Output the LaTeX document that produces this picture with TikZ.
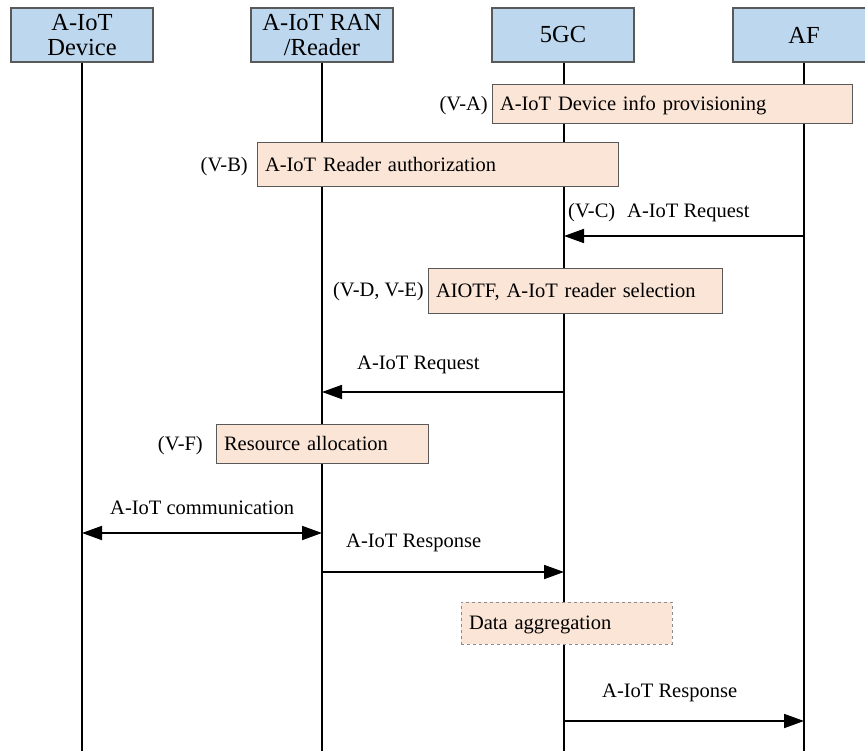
\documentclass[tikz,border=0pt]{standalone}
\usepackage{fontspec}
\setmainfont{Liberation Serif}
\usetikzlibrary{arrows.meta}
\definecolor{hdrfill}{HTML}{BDD7EE}
\definecolor{stepfill}{HTML}{FBE5D6}
\definecolor{edgegray}{HTML}{595959}
\definecolor{dashgray}{HTML}{8C8C8C}
\begin{document}
\begin{tikzpicture}[x=1pt,y=-1pt,
  hdr/.style={draw=edgegray, line width=1.2pt, fill=hdrfill, minimum width=142pt, minimum height=54pt, inner sep=0pt, align=center, font=\fontsize{24.5}{25}\selectfont},
  stepbox/.style={draw=edgegray, line width=1pt, fill=stepfill, inner xsep=8pt, inner ysep=0pt, align=left, text height=15pt, text depth=2pt, font=\fontsize{20.5}{24}\selectfont},
  lbl/.style={inner sep=0pt, font=\fontsize{20.5}{24}\selectfont},
  life/.style={line width=1.8pt, black},
  msg/.style={line width=1.8pt, -{Triangle[length=20pt,width=14pt]}},
  dmsg/.style={line width=1.8pt, {Triangle[length=20pt,width=14pt]}-{Triangle[length=20pt,width=14pt]}},
]
\useasboundingbox (0,0) rectangle (865,751);
\clip (0,0) rectangle (865,751);

% headers
\node[hdr] (dev) at (82,35) {A-IoT\\Device};
\node[hdr] (ran) at (322,35) {A-IoT RAN\\/Reader};
\node[hdr] (cn) at (563,35) {5GC};
\node[hdr] (af) at (804,35) {AF};

% lifeline ends
\coordinate (devE) at (82,760);
\coordinate (ranE) at (322,760);
\coordinate (cnE) at (564,760);
\coordinate (afE) at (804,760);
\draw[life] (dev.south) -- (devE);
\draw[life] (ran.south) -- (ranE);
\draw[life] (cn.south -| cnE) -- (cnE);
\draw[life] (af.south) -- (afE);

% step boxes
\node[stepbox, minimum width=360pt, minimum height=39pt, text width=344pt] (sA) at (672,104.5) {A-IoT Device info provisioning};
\node[lbl, anchor=base east] (lA) at (488,111) {(V-A)};

\node[stepbox, minimum width=361pt, minimum height=44pt, text width=345pt] (sB) at (437.5,165) {A-IoT Reader authorization};
\node[lbl, anchor=base east] (lB) at (248,172) {(V-B)};

\node[lbl, anchor=base west] (lC) at (568,218) {(V-C)};
\node[lbl, anchor=base west] (mC) at (627,218) {A-IoT Request};
\coordinate (c1) at (804,236);
\coordinate (c2) at (564,236);
\draw[msg] (c1) -- (c2);

\node[stepbox, minimum width=294pt, minimum height=45pt, text width=278pt] (sD) at (575,291.5) {AIOTF, A-IoT reader selection};
\node[lbl, anchor=base east] (lD) at (424,297) {(V-D, V-E)};

\node[lbl, anchor=base west] (mR) at (357,370) {A-IoT Request};
\coordinate (r1) at (564,392);
\coordinate (r2) at (322,392);
\draw[msg] (r1) -- (r2);

\node[stepbox, minimum width=212pt, minimum height=39pt, text width=196pt] (sF) at (322,443.5) {Resource allocation};
\node[lbl, anchor=base east] (lF) at (203,450) {(V-F)};

\node[lbl, anchor=base west] (mComm) at (110,514) {A-IoT communication};
\coordinate (k1) at (82,533);
\coordinate (k2) at (322,533);
\draw[dmsg] (k1) -- (k2);

\node[lbl, anchor=base west] (mResp1) at (346,547) {A-IoT Response};
\coordinate (p1) at (322,572);
\coordinate (p2) at (564,572);
\draw[msg] (p1) -- (p2);

\node[stepbox, draw=dashgray, dashed, line width=0.8pt, minimum width=211pt, minimum height=42pt, text width=195pt] (sG) at (566.5,623) {Data aggregation};

\node[lbl, anchor=base west] (mResp2) at (602,697) {A-IoT Response};
\coordinate (q1) at (564,721);
\coordinate (q2) at (804,721);
\draw[msg] (q1) -- (q2);
\end{tikzpicture}
\end{document}
